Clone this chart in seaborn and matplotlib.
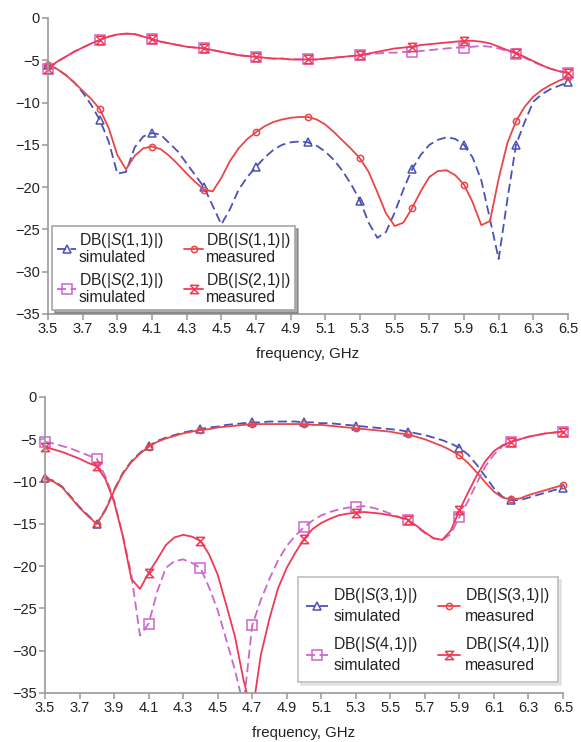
import numpy as np
import seaborn as sns
import matplotlib.pyplot as plt
from matplotlib.lines import Line2D
from matplotlib.ticker import FormatStrFormatter
from matplotlib.transforms import Bbox, TransformedBbox

sns.set_style("ticks")
plt.rcParams['font.family'] = ['Liberation Sans', 'DejaVu Sans']
plt.rcParams['mathtext.fontset'] = 'custom'
plt.rcParams['mathtext.rm'] = 'Liberation Sans'
plt.rcParams['mathtext.it'] = 'Liberation Sans:italic'

# frequency grid, GHz (3.5 ... 6.5 step 0.05)
freq = np.round(np.arange(3.5, 6.5001, 0.05), 2)

# upper plot: S(1,1), S(2,1)
s11_sim = [-5.6, -6.0, -6.7, -7.6, -8.8, -10.3, -12.1, -14.6, -18.4, -18.2,
           -15.3, -14.0, -13.6, -13.8, -14.8, -15.8, -17.2, -18.6, -20.0, -22.2,
           -24.4, -22.6, -20.3, -18.8, -17.6, -16.5, -15.6, -15.0, -14.7, -14.6,
           -14.7, -15.1, -15.8, -16.8, -18.1, -19.7, -21.6, -24.2, -26.0, -25.3,
           -23.0, -20.3, -17.9, -16.2, -15.0, -14.4, -14.1, -14.3, -15.0, -16.5,
           -19.2, -23.8, -28.5, -21.5, -15.0, -12.3, -9.9, -9.0, -8.4, -8.0,
           -7.6]
s11_meas = [-5.5, -6.0, -6.7, -7.6, -8.6, -9.6, -10.8, -13.0, -16.2, -17.9,
            -16.3, -15.4, -15.2, -15.5, -16.3, -17.3, -18.4, -19.4, -20.3, -20.5,
            -18.9, -16.9, -15.4, -14.3, -13.5, -12.8, -12.3, -12.0, -11.8, -11.7,
            -11.7, -12.0, -12.6, -13.5, -14.5, -15.5, -16.6, -18.2, -20.6, -23.1,
            -24.6, -24.2, -22.5, -20.5, -18.8, -18.1, -18.0, -18.6, -19.7, -21.8,
            -24.5, -24.0, -19.0, -14.8, -12.2, -10.5, -9.3, -8.5, -7.9, -7.4,
            -7.0]
s21_sim = [-6.0, -5.2, -4.6, -4.0, -3.5, -3.0, -2.6, -2.2, -1.95, -1.85,
           -1.9, -2.2, -2.5, -2.8, -3.0, -3.2, -3.4, -3.5, -3.6, -3.8,
           -4.0, -4.2, -4.4, -4.5, -4.6, -4.7, -4.8, -4.8, -4.9, -4.9,
           -4.9, -4.9, -4.8, -4.7, -4.6, -4.5, -4.4, -4.3, -4.2, -4.1,
           -4.1, -4.0, -4.0, -3.9, -3.8, -3.7, -3.6, -3.5, -3.5, -3.4,
           -3.3, -3.4, -3.6, -3.9, -4.2, -4.7, -5.2, -5.6, -6.0, -6.3,
           -6.5]
s21_meas = [-6.0, -5.2, -4.6, -4.0, -3.5, -3.0, -2.6, -2.2, -1.95, -1.85,
            -1.9, -2.2, -2.5, -2.8, -3.0, -3.2, -3.4, -3.5, -3.6, -3.8,
            -4.0, -4.2, -4.4, -4.5, -4.6, -4.7, -4.8, -4.8, -4.9, -4.9,
            -4.9, -4.9, -4.8, -4.7, -4.6, -4.5, -4.4, -4.2, -4.0, -3.8,
            -3.6, -3.5, -3.4, -3.2, -3.1, -3.0, -2.9, -2.8, -2.7, -2.7,
            -2.8, -3.0, -3.4, -3.8, -4.1, -4.6, -5.1, -5.6, -6.0, -6.3,
            -6.5]

# lower plot: S(3,1), S(4,1)
s31_sim = [-9.6, -9.9, -10.6, -11.8, -13.0, -14.0, -15.0, -13.3, -11.0, -9.0,
           -7.6, -6.6, -5.8, -5.2, -4.8, -4.5, -4.2, -4.0, -3.8, -3.6,
           -3.5, -3.3, -3.2, -3.1, -3.0, -3.0, -2.9, -2.9, -2.9, -2.9,
           -3.0, -3.0, -3.1, -3.1, -3.2, -3.3, -3.4, -3.5, -3.6, -3.7,
           -3.8, -3.9, -4.1, -4.3, -4.5, -4.8, -5.1, -5.5, -6.0, -6.8,
           -8.0, -9.4, -10.8, -11.8, -12.2, -12.2, -11.9, -11.6, -11.3, -11.0,
           -10.8]
s31_meas = [-9.7, -10.0, -10.7, -11.9, -13.1, -14.1, -15.0, -13.4, -11.1, -9.1,
            -7.7, -6.7, -5.9, -5.3, -4.9, -4.6, -4.3, -4.1, -3.9, -3.8,
            -3.6, -3.5, -3.4, -3.3, -3.2, -3.2, -3.2, -3.2, -3.2, -3.2,
            -3.2, -3.3, -3.3, -3.4, -3.5, -3.6, -3.7, -3.8, -3.9, -4.0,
            -4.1, -4.3, -4.4, -4.7, -5.0, -5.4, -5.8, -6.3, -6.9, -7.8,
            -8.9, -10.1, -11.2, -11.9, -12.1, -12.0, -11.6, -11.3, -11.0, -10.7,
            -10.4]
s41_sim = [-5.3, -5.5, -5.8, -6.1, -6.5, -6.9, -7.3, -9.4, -12.2, -16.3,
           -21.0, -28.2, -26.8, -23.0, -20.2, -19.4, -19.2, -19.6, -20.2, -22.5,
           -25.2, -28.7, -32.3, -36.5, -27.0, -24.0, -21.5, -19.3, -17.6, -16.4,
           -15.4, -14.6, -14.0, -13.6, -13.3, -13.1, -13.0, -12.9, -13.1, -13.4,
           -13.8, -14.2, -14.6, -15.3, -16.1, -16.7, -16.9, -16.2, -14.2, -12.3,
           -10.2, -8.2, -6.8, -5.8, -5.3, -5.0, -4.7, -4.5, -4.3, -4.2,
           -4.1]
s41_meas = [-5.9, -6.2, -6.5, -6.9, -7.3, -7.8, -8.2, -9.7, -12.4, -16.4,
            -21.5, -22.7, -20.8, -19.2, -17.5, -16.6, -16.3, -16.5, -17.0, -18.6,
            -21.0, -24.6, -28.3, -33.5, -37.5, -30.5, -26.2, -22.6, -20.2, -18.4,
            -16.8, -15.6, -14.9, -14.4, -14.0, -13.8, -13.7, -13.6, -13.7, -13.8,
            -14.0, -14.2, -14.5, -15.2, -16.0, -16.7, -16.9, -15.8, -13.4, -11.3,
            -9.3, -7.6, -6.4, -5.7, -5.3, -5.0, -4.7, -4.5, -4.3, -4.2,
            -4.1]

xticks = np.round(np.arange(3.5, 6.51, 0.2), 1)
yticks = list(range(-35, 1, 5))

BLUE = '#4a52b8'
RED = '#e8474a'
PINK = '#cc66cc'
RED2 = '#f03a55'
HOURGLASS = [(-1, 1), (1, 1), (-1, -1), (1, -1), (-1, 1)]
DASH = (0, (5, 2.5))


def drawCurve(ax, vals, color, ls, marker, ms):
    sns.lineplot(x=freq, y=vals, ax=ax, color=color, linestyle=ls, lw=1.3,
                 marker=marker, markersize=ms, markevery=6,
                 mfc='none', mec=color, mew=1.1)
    line = ax.lines[-1]
    # let the markers on the axis ends show fully, still clip below -35
    line.set_clip_path(None)
    line.set_clip_box(TransformedBbox(Bbox([[-0.03, 0], [1.03, 1]]), ax.transAxes))
    return Line2D([], [], color=color, linestyle=ls, lw=1.3, marker=marker,
                  markersize=ms, mfc='none', mec=color, mew=1.1)


def styleAxes(ax):
    ax.set_xlim(3.5, 6.5)
    ax.set_ylim(-35, 0)
    ax.set_xticks(xticks)
    ax.set_yticks(yticks)
    ax.xaxis.set_major_formatter(FormatStrFormatter('%.1f'))
    sns.despine(ax=ax)
    for side in ('left', 'bottom'):
        ax.spines[side].set_color('0.6')
        ax.spines[side].set_linewidth(1.2)
    ax.tick_params(direction='out', length=4, width=1.1, color='0.6',
                   labelsize=10.5, labelcolor='#222222', pad=2)
    ax.set_ylabel('')
    ax.set_xlabel('frequency, GHz', fontsize=10.8, color='#222222', labelpad=8)


fig = plt.figure(figsize=(5.81, 7.42), dpi=100)
ax1 = fig.add_axes([48 / 581, 1 - 314 / 742, 520 / 581, 296 / 742])
ax2 = fig.add_axes([45 / 581, 1 - 693 / 742, 518 / 581, 296 / 742])

h1 = drawCurve(ax1, s11_sim, BLUE, DASH, '^', 6)
h2 = drawCurve(ax1, s11_meas, RED, '-', 'o', 4.5)
h3 = drawCurve(ax1, s21_sim, PINK, DASH, 's', 6.5)
h4 = drawCurve(ax1, s21_meas, RED2, '-', HOURGLASS, 6)
styleAxes(ax1)

leg1 = ax1.legend([h1, h3, h2, h4],
                  ['DB(|$\\mathit{S}$(1,1)|)\nsimulated', 'DB(|$\\mathit{S}$(2,1)|)\nsimulated',
                   'DB(|$\\mathit{S}$(1,1)|)\nmeasured', 'DB(|$\\mathit{S}$(2,1)|)\nmeasured'],
                  ncol=2, loc='lower left', bbox_to_anchor=(0.008, 0.013), borderaxespad=0,
                  fontsize=11.3, fancybox=False, shadow={'color': '0.35'}, framealpha=1,
                  edgecolor='0.65', handlelength=1.25, handletextpad=0.15,
                  columnspacing=1.3, labelspacing=0.4, borderpad=0.3)
leg1.get_frame().set_linewidth(1.2)
for t in leg1.get_texts():
    t.set_linespacing(1.0)
    t.set_color('#222222')

g1 = drawCurve(ax2, s31_sim, BLUE, DASH, '^', 6)
g2 = drawCurve(ax2, s31_meas, RED, '-', 'o', 4.5)
g3 = drawCurve(ax2, s41_sim, PINK, DASH, 's', 6.5)
g4 = drawCurve(ax2, s41_meas, RED2, '-', HOURGLASS, 6)
styleAxes(ax2)

leg2 = ax2.legend([g1, g3, g2, g4],
                  ['DB(|$\\mathit{S}$(3,1)|)\nsimulated', 'DB(|$\\mathit{S}$(4,1)|)\nsimulated',
                   'DB(|$\\mathit{S}$(3,1)|)\nmeasured', 'DB(|$\\mathit{S}$(4,1)|)\nmeasured'],
                  ncol=2, loc='lower left', bbox_to_anchor=(0.488, 0.037), borderaxespad=0,
                  fontsize=11.3, fancybox=False, shadow={'color': '0.82'}, framealpha=1,
                  edgecolor='0.75', handlelength=1.4, handletextpad=0.3,
                  columnspacing=1.3, labelspacing=0.65, borderpad=0.55)
leg2.get_frame().set_linewidth(1.2)
for t in leg2.get_texts():
    t.set_linespacing(1.4)
    t.set_color('#222222')

fig.savefig('out.png', dpi=100)
